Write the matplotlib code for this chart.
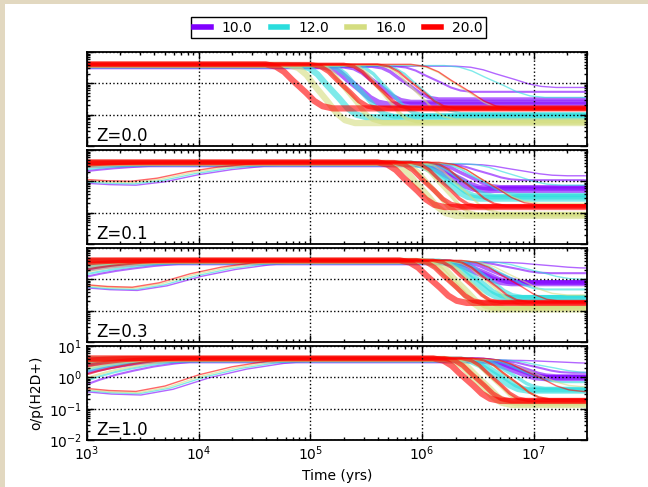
import numpy as np
import matplotlib
matplotlib.use('Agg')
import matplotlib.pyplot as plt
from matplotlib.lines import Line2D
from matplotlib.patches import Rectangle

# ---------------------
# Data (log10 values)
# ---------------------
temps = ['10.0', '12.0', '16.0', '20.0']
zvals = ['0.0', '0.1', '0.3', '1.0']
colors = plt.cm.rainbow(np.linspace(0, 1, 4))
line_widths = [1.0, 1.5, 2.5, 3.5, 4.5]      # one per density, thin -> thick

plateau = [0.55, 0.57, 0.59, 0.61]          # log10 o/p plateau, per temperature
rise_lag = [0.2, 0.13, 0.07, 0.0]           # purple reaches plateau a bit later

# log10 o/p at t = 1e3 yr   [panel][temperature][density]
start = [
    [[0.55] * 5, [0.57] * 5, [0.59] * 5, [0.61] * 5],
    [[-0.06, 0.33, 0.48, 0.55, 0.55],
     [-0.02, 0.39, 0.52, 0.57, 0.57],
     [0.02, 0.45, 0.55, 0.59, 0.59],
     [0.06, 0.50, 0.58, 0.61, 0.61]],
    [[-0.27, 0.09, 0.30, 0.45, 0.55],
     [-0.24, 0.17, 0.36, 0.50, 0.57],
     [-0.20, 0.25, 0.42, 0.55, 0.59],
     [-0.17, 0.32, 0.50, 0.60, 0.61]],
    [[-0.46, -0.22, 0.15, 0.40, 0.55],
     [-0.42, -0.10, 0.22, 0.45, 0.57],
     [-0.39, -0.02, 0.30, 0.50, 0.59],
     [-0.35, 0.10, 0.38, 0.55, 0.61]],
]
# log10 t where the plateau is reached   [panel][density]
rise_end = [
    [3.0, 3.0, 3.0, 3.0, 3.0],
    [4.8, 3.9, 3.5, 3.2, 3.0],
    [4.85, 4.0, 3.7, 3.4, 3.0],
    [5.0, 4.0, 3.7, 3.4, 3.0],
]
# log10 t at the middle of the drop   [panel][temperature][density]
drop_mid = [
    [[6.75, 6.10, 5.85, 5.60, 5.40],
     [6.65, 6.00, 5.70, 5.45, 5.20],
     [6.35, 5.95, 5.65, 5.35, 5.10],
     [6.35, 5.95, 5.60, 5.30, 4.90]],
    [[6.85, 6.55, 6.40, 6.30, 6.25],
     [6.80, 6.50, 6.35, 6.25, 6.20],
     [6.60, 6.35, 6.20, 6.10, 6.00],
     [6.60, 6.40, 6.20, 6.05, 5.90]],
    [[7.10, 6.80, 6.65, 6.55, 6.50],
     [7.00, 6.75, 6.60, 6.50, 6.45],
     [6.85, 6.60, 6.45, 6.35, 6.30],
     [6.80, 6.60, 6.40, 6.25, 6.10]],
    [[7.20, 7.00, 6.90, 6.85, 6.80],
     [7.10, 6.90, 6.80, 6.70, 6.65],
     [7.00, 6.80, 6.65, 6.55, 6.50],
     [7.00, 6.80, 6.65, 6.50, 6.40]],
]
# final log10 o/p   [panel][temperature][density]
final = [
    [[-0.13, -0.27, -0.50, -0.60, -0.68],
     [-0.45, -0.95, -1.00, -1.05, -1.08],
     [-0.85, -1.15, -1.22, -1.25, -1.27],
     [-0.80, -0.80, -0.80, -0.80, -0.80]],
    [[0.18, 0.04, -0.17, -0.22, -0.27],
     [-0.12, -0.40, -0.45, -0.50, -0.55],
     [-0.70, -1.00, -1.05, -1.08, -1.10],
     [-0.75, -0.78, -0.80, -0.80, -0.82]],
    [[0.36, 0.20, -0.08, -0.10, -0.12],
     [0.00, -0.32, -0.55, -0.58, -0.60],
     [-0.50, -0.85, -0.90, -0.93, -0.96],
     [-0.70, -0.72, -0.73, -0.75, -0.75]],
    [[0.45, 0.15, 0.05, 0.00, -0.02],
     [0.15, -0.15, -0.35, -0.40, -0.42],
     [-0.30, -0.70, -0.80, -0.85, -0.88],
     [-0.45, -0.70, -0.73, -0.75, -0.75]],
]
drop_halfwidth = [0.45, 0.35, 0.3, 0.3, 0.3]   # dex, per density

# shapes of the rise and of the drop (fraction of the change vs. position)
rise_u = [0.0, 0.1, 0.22, 0.35, 0.5, 0.65, 0.8, 0.9, 1.0]
rise_dip_f = [0.0, -0.07, -0.1, 0.08, 0.45, 0.72, 0.9, 0.97, 1.0]
rise_fast_f = [0.0, 0.2, 0.4, 0.57, 0.74, 0.86, 0.95, 0.99, 1.0]
drop_u = [-1.0, -0.7, -0.45, -0.2, 0.0, 0.2, 0.45, 0.7, 1.0]
drop_f = [0.0, 0.05, 0.17, 0.36, 0.5, 0.64, 0.83, 0.95, 1.0]

tmin, tmax = 1e3, 3e7


def curve_points(p, i, j):
    top = plateau[i]
    y0 = start[p][i][j]
    xs, ys = [3.0], [y0]
    if y0 < top:
        t_end = rise_end[p][j] + rise_lag[i]
        shape = rise_dip_f if j == 0 else rise_fast_f
        for u, f in zip(rise_u[1:], shape[1:]):
            xs.append(3.0 + u * (t_end - 3.0))
            ys.append(y0 + f * (top - y0))
    m, w, yf = drop_mid[p][i][j], drop_halfwidth[j], final[p][i][j]
    for u, f in zip(drop_u, drop_f):
        xs.append(m + u * w)
        ys.append(top + f * (yf - top))
    xs.append(np.log10(tmax))
    ys.append(yf)
    return 10 ** np.array(xs), 10 ** np.array(ys)


# ---------------------
# Figure
# ---------------------
plt.rcParams['xtick.direction'] = 'in'
plt.rcParams['ytick.direction'] = 'in'
plt.rcParams['xtick.top'] = True
plt.rcParams['ytick.right'] = True
plt.rcParams['xtick.major.size'] = 5
plt.rcParams['ytick.major.size'] = 5
plt.rcParams['xtick.minor.size'] = 2.5
plt.rcParams['ytick.minor.size'] = 2.5
plt.rcParams['axes.linewidth'] = 1.3
plt.rcParams['font.size'] = 10

fig = plt.figure(figsize=(6.48, 4.87), dpi=100)
fig.patch.set_facecolor('#e2d8c0')
fig.patches.append(Rectangle((5 / 648., 0), 1, 1 - 4 / 487., transform=fig.transFigure,
                             facecolor='white', edgecolor='none', zorder=-1))

gs = fig.add_gridspec(4, 1, left=0.134, right=0.906, top=0.893, bottom=0.0965, hspace=0.045)
axes = [fig.add_subplot(gs[k]) for k in range(4)]

for p, ax in enumerate(axes):
    for i in range(len(temps)):
        for j in range(len(line_widths)):
            t, op = curve_points(p, i, j)
            ax.plot(t, op, color=colors[i], lw=line_widths[j], alpha=0.6,
                    solid_capstyle='butt')
    ax.set_xscale('log')
    ax.set_yscale('log')
    ax.set_xlim(tmin, tmax)
    ax.set_ylim(1e-2, 1e1)
    ax.set_axisbelow(False)
    ax.grid(True, which='major', color='k', linestyle=':', linewidth=1)
    ax.tick_params(which='both', width=1)
    ax.text(0.019, 0.056, 'Z=' + zvals[p], transform=ax.transAxes, fontsize=12)
    if p < 3:
        ax.tick_params(labelbottom=False, labelleft=False)

axes[3].set_xlabel('Time (yrs)')
axes[3].set_ylabel('o/p(H2D+)')

handles = [Line2D([], [], color=c, lw=4) for c in colors]
fig.legend(handles, temps, loc='upper center', bbox_to_anchor=(0.522, 0.965), ncol=4,
           fancybox=False, edgecolor='k', framealpha=1, fontsize=10,
           handlelength=1.2, handletextpad=0.8, columnspacing=1.3,
           borderpad=0.25, borderaxespad=0)

fig.savefig('out.png', dpi=100, facecolor=fig.get_facecolor())
